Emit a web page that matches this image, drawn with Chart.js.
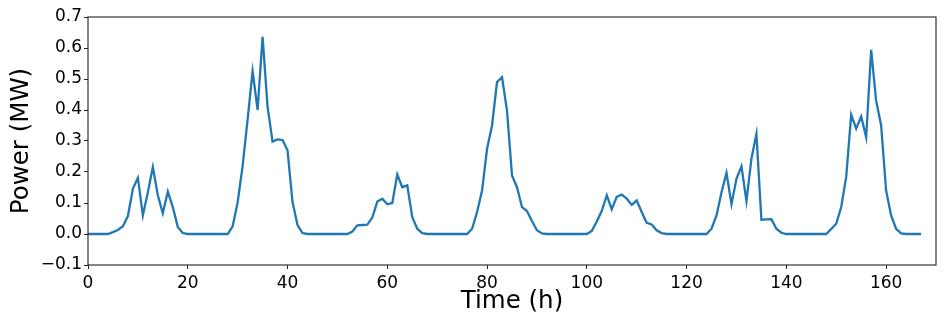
<!DOCTYPE html>
<html>
<head>
<meta charset="utf-8">
<script src="https://cdn.jsdelivr.net/npm/chart.js@4.4.1/dist/chart.umd.min.js"></script>
<style>
  html, body { margin: 0; padding: 0; background: #ffffff; }
  #wrap { width: 947px; height: 331px; }
</style>
</head>
<body>
<div id="wrap"><canvas id="c" width="947" height="331"></canvas></div>
<script>
// Hourly power (MW), hours 0..167
const powerMW = [
  0, 0, 0, 0, 0, 0.006, 0.013, 0.025, 0.058, 0.146, 0.181, 0.060,
  0.135, 0.216, 0.125, 0.067, 0.137, 0.087, 0.023, 0.003, 0, 0, 0, 0,
  0, 0, 0, 0, 0, 0.025, 0.102, 0.22, 0.37, 0.525, 0.40, 0.636,
  0.41, 0.298, 0.305, 0.303, 0.27, 0.103, 0.029, 0.003, 0, 0, 0, 0,
  0, 0, 0, 0, 0, 0.008, 0.028, 0.029, 0.030, 0.053, 0.105, 0.114,
  0.096, 0.100, 0.192, 0.151, 0.157, 0.055, 0.017, 0.003, 0, 0, 0, 0,
  0, 0, 0, 0, 0, 0.017, 0.071, 0.14, 0.275, 0.35, 0.49, 0.506,
  0.398, 0.189, 0.151, 0.087, 0.074, 0.042, 0.012, 0.002, 0, 0, 0, 0,
  0, 0, 0, 0, 0, 0.01, 0.04, 0.075, 0.125, 0.08, 0.12, 0.127,
  0.114, 0.094, 0.108, 0.071, 0.036, 0.031, 0.012, 0.003, 0, 0, 0, 0,
  0, 0, 0, 0, 0, 0.017, 0.06, 0.135, 0.197, 0.096, 0.178, 0.218,
  0.106, 0.243, 0.323, 0.046, 0.047, 0.048, 0.017, 0.004, 0, 0, 0, 0,
  0, 0, 0, 0, 0, 0.016, 0.033, 0.087, 0.184, 0.385, 0.34, 0.379,
  0.312, 0.594, 0.43, 0.35, 0.14, 0.06, 0.017, 0.002, 0, 0, 0, 0
];
const hours = powerMW.map((_, i) => i);
const xTicks = [0, 20, 40, 60, 80, 100, 120, 140, 160];
const yTicks = [-0.1, 0.0, 0.1, 0.2, 0.3, 0.4, 0.5, 0.6, 0.7];
const xLimits = [0, 170];
const yLimits = [-0.1, 0.7];
const xTitle = 'Time (h)';
const yTitle = 'Power (MW)';

const FONT = "'DejaVu Sans', sans-serif";

const frame = {
  id: 'frame',
  afterDatasetsDraw(chart) {
    const {ctx, chartArea: a} = chart;
    ctx.save();
    ctx.strokeStyle = '#222222';
    ctx.lineWidth = 1.1;
    ctx.strokeRect(a.left, a.top, a.right - a.left, a.bottom - a.top);
    ctx.restore();
  }
};

new Chart(document.getElementById('c'), {
  type: 'line',
  data: {
    datasets: [{
      data: hours.map((h, i) => ({x: h, y: powerMW[i]})),
      borderColor: '#1f77b4',
      borderWidth: 2.3,
      pointRadius: 0,
      tension: 0,
      fill: false
    }]
  },
  options: {
    responsive: false,
    animation: false,
    devicePixelRatio: 1,
    layout: { padding: { top: 17, right: 11, left: 0, bottom: 0 } },
    plugins: { legend: { display: false }, tooltip: { enabled: false } },
    scales: {
      x: {
        type: 'linear',
        min: xLimits[0], max: xLimits[1],
        afterFit(s) { s.height = 66; },
        afterBuildTicks(s) { s.ticks = xTicks.map(v => ({value: v})); },
        border: { display: false },
        grid: { drawOnChartArea: false, drawTicks: true, tickLength: 4, tickColor: '#222', tickWidth: 1 },
        ticks: {
          color: '#000', padding: 4, maxRotation: 0, autoSkip: false,
          font: { family: FONT, size: 17 },
          callback: v => String(v)
        },
        title: {
          display: true, text: xTitle, color: '#000',
          font: { family: FONT, size: 24.5 },
          padding: { top: 0, bottom: 15 }
        }
      },
      y: {
        type: 'linear',
        min: yLimits[0], max: yLimits[1],
        afterFit(s) { s.width = 88; },
        afterBuildTicks(s) { s.ticks = yTicks.map(v => ({value: v})); },
        border: { display: false },
        grid: { drawOnChartArea: false, drawTicks: true, tickLength: 4, tickColor: '#222', tickWidth: 1 },
        ticks: {
          color: '#000', padding: 2, autoSkip: false,
          font: { family: FONT, size: 17 },
          callback: v => v.toFixed(1).replace('-', '\u2212')
        },
        title: {
          display: true, text: yTitle, color: '#000',
          font: { family: FONT, size: 24.5 },
          padding: { top: 7, bottom: 0 }
        }
      }
    }
  },
  plugins: [frame]
});
</script>
</body>
</html>
